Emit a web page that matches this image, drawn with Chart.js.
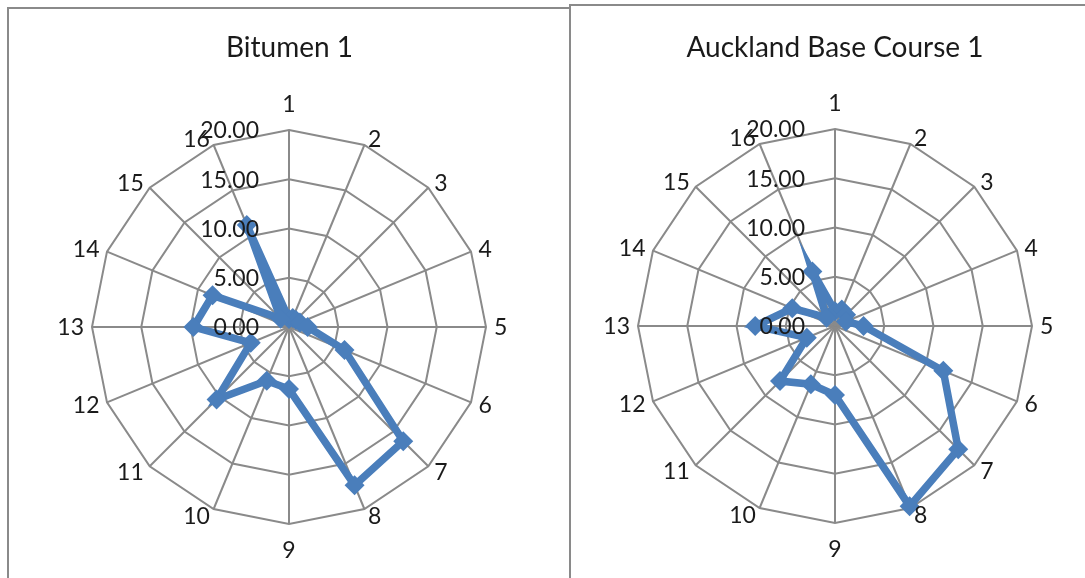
<!DOCTYPE html>
<html>
<head>
<style>
body{margin:0;background:#fff;width:1085px;height:578px;overflow:hidden;position:relative}
.box{position:absolute;border:2px solid #8a8a8a;background:#fff;overflow:hidden}
#box1{left:7px;top:7px;width:561px;height:620px}
#box2{left:569px;top:4px;width:528px;height:620px}
.wrap{position:absolute;left:0;top:0;width:100%;height:600px}
</style>
</head>
<body>
<div class="box" id="box1"><div class="wrap"><canvas id="c1"></canvas></div></div>
<div class="box" id="box2"><div class="wrap"><canvas id="c2"></canvas></div></div>

<script src="https://cdn.jsdelivr.net/npm/chart.js@4.4.0/dist/chart.umd.min.js"></script>
<script>
// chart data
const categories = ['1','2','3','4','5','6','7','8','9','10','11','12','13','14','15','16'];
const bitumen = [0.8, 1.0, 1.0, 1.2, 1.9, 6.1, 16.4, 17.4, 6.3, 5.9, 10.4, 4.2, 9.7, 8.4, 1.2, 11.2];
const auckland = [1.5, 1.8, 1.6, 1.2, 2.9, 11.9, 17.7, 19.8, 7.0, 6.4, 7.9, 3.1, 8.1, 4.7, 1.2, 6.0];
const tickValues = [0, 5, 10, 15, 20];

const FONT = 'Lato';
const blue = '#4a7ebb';
const grey = '#8a8a8a';
const textColor = '#1a1a1a';

// excel style labels: values left of the vertical axis,
// category labels sitting beside the outer ring corners
const excelLabels = {
   id: 'excelLabels',
   afterDatasetsDraw(chart) {
      const s = chart.scales.r;
      const ctx = chart.ctx;
      ctx.save();
      ctx.font = '23px ' + FONT;
      ctx.fillStyle = textColor;
      ctx.textBaseline = 'middle';

      ctx.textAlign = 'right';
      tickValues.forEach(function (v) {
         const d = s.getDistanceFromCenterForValue(v);
         ctx.fillText(v.toFixed(2), s.xCenter - 30, s.yCenter - d + 1);
      });

      categories.forEach(function (lab, i) {
         const half = categories.length / 2;
         if (i === 0 || i === half) {
            const p = s.getPointPosition(i, s.drawingArea + 26);
            ctx.textAlign = 'center';
            ctx.fillText(lab, p.x, p.y + 1);
         } else {
            const p = s.getPointPosition(i, s.drawingArea + 7);
            ctx.textAlign = i < half ? 'left' : 'right';
            ctx.fillText(lab, p.x + (i < half ? 1 : -1), p.y + 1);
         }
      });
      ctx.restore();
   }
};

function makeRadar(id, title, values, titleTop, titleBottom, padBottom) {
   const context = document.getElementById(id).getContext('2d');
   return new Chart(context, {
      type: 'radar',
      data: {
         labels: categories,
         datasets: [{
            data: values,
            borderColor: blue,
            backgroundColor: blue,
            borderWidth: 7.5,
            fill: false,
            pointStyle: 'rectRot',
            pointRadius: 10,
            pointBorderWidth: 0,
            pointBackgroundColor: blue,
            tension: 0
         }]
      },
      options: {
         responsive: true,
         maintainAspectRatio: false,
         animation: false,
         layout: {padding: {left: 0, right: 0, top: 0, bottom: padBottom}},
         plugins: {
            legend: {display: false},
            tooltip: {enabled: false},
            title: {
               display: true,
               text: title,
               color: textColor,
               font: {family: FONT, size: 28, weight: 'normal'},
               padding: {top: titleTop, bottom: titleBottom}
            }
         },
         scales: {
            r: {
               min: 0,
               max: 20,
               ticks: {stepSize: 5, display: false},
               grid: {color: grey, lineWidth: 2},
               angleLines: {color: grey, lineWidth: 2},
               pointLabels: {display: false}
            }
         }
      },
      plugins: [excelLabels]
   });
}

makeRadar('c1', 'Bitumen 1', bitumen, 22, 65, 84);
makeRadar('c2', 'Auckland Base Course 1', auckland, 25, 64.4, 82);
</script>
</body>
</html>
